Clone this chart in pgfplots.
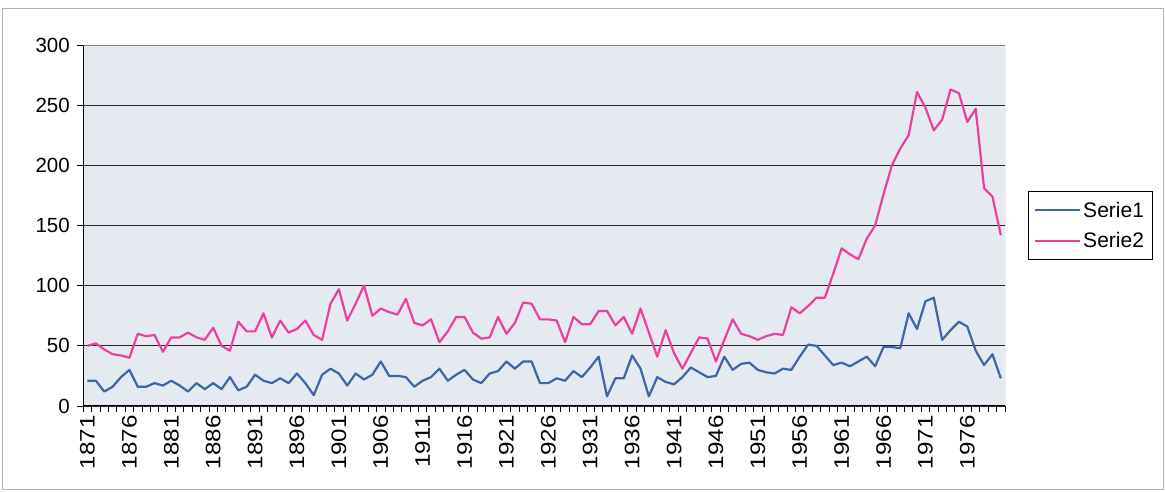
\documentclass[border=0pt]{standalone}
\usepackage{fontspec}
\setmainfont{Liberation Sans}
\usepackage{graphicx}
\usepackage{pgfplots}
\pgfplotsset{compat=1.18}
\usepackage{pgfplotstable}
\definecolor{sblue}{RGB}{62,102,165}
\definecolor{spink}{RGB}{236,64,160}
\definecolor{plotbg}{RGB}{229,233,240}

\pgfplotstableread{
year s1 s2
1871 21 50
1872 21 52
1873 12 47
1874 16 43
1875 24 42
1876 30 40
1877 16 60
1878 16 58
1879 19 59
1880 17 45
1881 21 57
1882 17 57
1883 12 61
1884 19 57
1885 14 55
1886 19 65
1887 14 50
1888 24 46
1889 13 70
1890 16 62
1891 26 62
1892 21 77
1893 19 57
1894 23 71
1895 19 61
1896 27 64
1897 19 71
1898 9 59
1899 26 55
1900 31 85
1901 27 97
1902 17 71
1903 27 85
1904 22 100
1905 26 75
1906 37 81
1907 25 78
1908 25 76
1909 24 89
1910 16 69
1911 21 67
1912 24 72
1913 31 53
1914 21 62
1915 26 74
1916 30 74
1917 22 61
1918 19 56
1919 27 57
1920 29 74
1921 37 60
1922 31 69
1923 37 86
1924 37 85
1925 19 72
1926 19 72
1927 23 71
1928 21 53
1929 29 74
1930 24 68
1931 32 68
1932 41 79
1933 8 79
1934 23 67
1935 23 74
1936 42 60
1937 31 81
1938 8 61
1939 24 41
1940 20 63
1941 18 44
1942 24 31
1943 32 44
1944 28 57
1945 24 56
1946 25 37
1947 41 55
1948 30 72
1949 35 60
1950 36 58
1951 30 55
1952 28 58
1953 27 60
1954 31 59
1955 30 82
1956 41 77
1957 51 83
1958 50 90
1959 42 90
1960 34 110
1961 36 131
1962 33 126
1963 37 122
1964 41 139
1965 33 150
1966 49 176
1967 49 200
1968 48 214
1969 77 225
1970 64 261
1971 87 248
1972 90 229
1973 55 238
1974 63 263
1975 70 260
1976 66 236
1977 46 247
1978 34 181
1979 43 174
1980 23 142
}\datatable

\newcommand{\xl}[1]{\scalebox{1.15}[1]{#1}}

\begin{document}
\begin{tikzpicture}[x=1bp,y=1bp]
\path[use as bounding box] (0,0) rectangle (1166,492);
\draw[gray!60, line width=0.8bp] (2.5,3) rectangle (1163,484);
\begin{axis}[
  at={(83.3bp,86bp)}, anchor=south west,
  scale only axis, width=921.7bp, height=361bp,
  xmin=1870.5, xmax=1980.5, ymin=0, ymax=300,
  axis background/.style={fill=plotbg},
  axis x line*=bottom, axis y line*=left,
  axis line style={black, line width=1bp},
  ytick={0,50,...,300},
  yticklabels={0,50,100,150,200,250,300},
  ymajorgrids,
  grid style={black!85, line width=0.9bp},
  xtick={1871,1876,...,1976},
  xticklabels={\xl{1871},\xl{1876},\xl{1881},\xl{1886},\xl{1891},\xl{1896},\xl{1901},\xl{1906},\xl{1911},\xl{1916},\xl{1921},\xl{1926},\xl{1931},\xl{1936},\xl{1941},\xl{1946},\xl{1951},\xl{1956},\xl{1961},\xl{1966},\xl{1971},\xl{1976}},
  minor xtick={1870.5,1871.5,...,1980.5},
  major x tick style={draw=none},
  minor x tick style={black, line width=0.8bp},
  minor tick length=6bp,
  major tick length=6bp,
  y tick style={black, line width=0.9bp},
  tick align=outside,
  xticklabel style={rotate=90, anchor=east, font=\fontsize{21bp}{25bp}\selectfont},
  yticklabel style={font=\fontsize{20.5bp}{24bp}\selectfont, xshift=-4bp},
  legend style={at={(1.0922,0.5)}, anchor=center, draw=black, line width=0.8bp,
    fill=white, font=\fontsize{21bp}{25bp}\selectfont, inner xsep=6bp, inner ysep=8bp,
    row sep=10bp, legend cell align=left},
  legend image code/.code={\draw[#1] (0bp,0bp) -- (45bp,0bp);},
]
\addplot[sblue, line width=2.2bp, line join=round] table[x=year, y=s1] {\datatable};
\addlegendentry{Serie1}
\addplot[spink, line width=2.2bp, line join=round] table[x=year, y=s2] {\datatable};
\addlegendentry{Serie2}
\draw[gray, line width=0.8bp] (rel axis cs:0,1) -- (rel axis cs:1,1) -- (rel axis cs:1,0);
\end{axis}
\end{tikzpicture}
\end{document}
